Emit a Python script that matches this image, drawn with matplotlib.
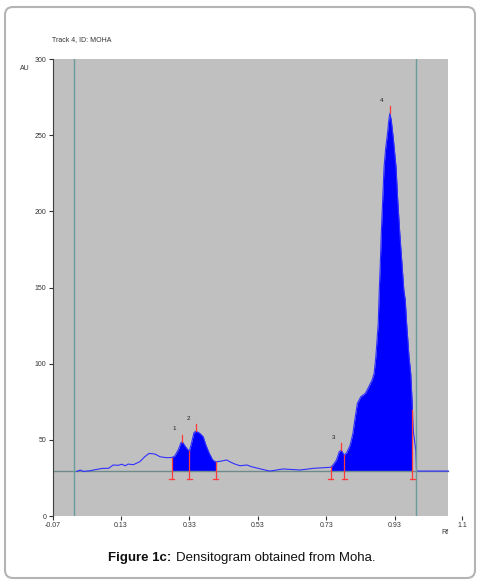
import numpy as np
import matplotlib
matplotlib.use("Agg")
import matplotlib.pyplot as plt
from matplotlib.patches import FancyBboxPatch
from matplotlib.transforms import IdentityTransform

plt.rcParams["font.family"] = ["Liberation Sans", "DejaVu Sans"]

# densitogram trace (Rf, AU)
rf = [0.000, 0.011, 0.019, 0.039, 0.049, 0.076, 0.093, 0.107, 0.122, 0.132,
      0.142, 0.151, 0.166, 0.185, 0.199, 0.212, 0.229, 0.244, 0.263, 0.278,
      0.287, 0.298, 0.305, 0.309, 0.315, 0.324, 0.330, 0.337, 0.343, 0.349,
      0.360, 0.370, 0.378, 0.388, 0.398, 0.407, 0.424, 0.439, 0.449, 0.463,
      0.478, 0.498, 0.511, 0.531, 0.551, 0.565, 0.604, 0.653, 0.692, 0.721,
      0.743, 0.750, 0.760, 0.768, 0.774, 0.778, 0.783, 0.790, 0.800, 0.808,
      0.812, 0.821, 0.831, 0.844, 0.852, 0.864, 0.870, 0.875, 0.882, 0.885,
      0.888, 0.891, 0.895, 0.899, 0.904, 0.909, 0.913, 0.916, 0.920, 0.926,
      0.934, 0.939, 0.945, 0.952, 0.957, 0.961, 0.965, 0.972, 0.977, 0.980,
      0.982, 0.985, 0.992, 0.994, 1.087]
au = [29.3, 30.2, 29.3, 29.7, 30.2, 31.3, 31.3, 33.5, 33.3, 34.0,
      33.0, 34.1, 33.7, 35.7, 38.9, 41.1, 40.7, 38.9, 38.3, 38.4,
      39.4, 43.8, 48.1, 48.8, 46.6, 43.8, 42.7, 48.8, 54.7, 55.8,
      54.3, 52.1, 46.6, 41.1, 36.8, 35.5, 36.1, 36.8, 35.5, 34.1,
      33.0, 33.5, 32.4, 31.3, 30.2, 29.5, 30.9, 30.2, 31.3, 31.7,
      32.0, 33.5, 36.8, 42.2, 43.3, 41.6, 40.0, 41.6, 46.6, 54.3,
      60.8, 74.0, 78.3, 80.5, 83.8, 89.3, 93.7, 104.6, 126.5, 148.0,
      165.0, 185.6, 207.5, 229.0, 242.0, 251.0, 260.0, 264.4, 260.0, 248.0,
      229.0, 207.5, 185.6, 163.7, 148.0, 141.8, 126.5, 104.6, 93.7, 80.0,
      69.6, 55.0, 43.0, 29.5, 29.5]

baseline = 29.5
front_lines = [-0.007, 0.993]
scan_end = 1.087
peak_labels = ["1", "2", "3", "4"]
peak_max_rf = [0.309, 0.349, 0.774, 0.916]
peak_max_au = [48.8, 55.8, 43.3, 264.4]
bounds = [0.278, 0.330, 0.407, 0.743, 0.783, 0.982]
groups = [(0.278, 0.407), (0.743, 0.982)]
x_end = 1.127  # axis end, labelled "1.1" by the scanner software
xticks = [-0.07, 0.13, 0.33, 0.53, 0.73, 0.93, x_end]
xticklabels = ["-0.07", "0.13", "0.33", "0.53", "0.73", "0.93", "1.1"]
yticks = [0, 50, 100, 150, 200, 250, 300]

rf = np.array(rf)
au = np.array(au)

fig = plt.figure(figsize=(4.8, 5.85), dpi=100)

# rounded frame around the figure
frame = FancyBboxPatch((5, 7), 470, 571, boxstyle="round,pad=0,rounding_size=8",
                       transform=IdentityTransform(), fill=False,
                       edgecolor="#b4b4b4", linewidth=1.5)
fig.patches.append(frame)

ax = fig.add_axes([52.7 / 480, 0.1179, 409.3 / 480, 0.7812])
ax.set_facecolor("none")
ax.set_xlim(-0.07, x_end)
ax.set_ylim(0, 300)
ax.axvspan(-0.07, scan_end, color="#c0c0c0", linewidth=0, zorder=0)

for lo, hi in groups:
    m = (rf >= lo) & (rf <= hi)
    ax.fill_between(rf[m], baseline, au[m], color="#0000ff", linewidth=0)

ax.plot([-0.07, scan_end], [baseline, baseline], color="#6f8a8a", linewidth=1.0)
ax.plot(rf, au, color="#3030ff", linewidth=0.8)
for f in front_lines:
    ax.axvline(f, color="#6a9c9c", linewidth=1.0)

# peak boundaries
for b in bounds:
    yv = np.interp(b, rf, au)
    ax.plot([b, b], [24.5, yv], color="#ff3b3b", linewidth=0.9)
    ax.plot([b - 0.007, b + 0.007], [24.5, 24.5], color="#ff3b3b", linewidth=0.9)

# peak maxima markers and numbers
for lab, px, py in zip(peak_labels, peak_max_rf, peak_max_au):
    ax.plot([px, px], [py, py + 4.5], color="#ff3b3b", linewidth=0.9)
    ax.text(px - 0.023, py + 8.5, lab, fontsize=4.5, color="#202020",
            ha="center", va="center")

ax.set_xticks(xticks)
ax.set_xticklabels(xticklabels)
ax.set_yticks(yticks)
ax.tick_params(labelsize=5, colors="#333333", length=3, width=0.8, pad=1.5)
for s in ["top", "right", "bottom"]:
    ax.spines[s].set_visible(False)
ax.spines["left"].set_color("#404040")
ax.spines["left"].set_linewidth(0.8)

fig.text(52 / 480, 1 - 40 / 585, "Track 4, ID: MOHA", fontsize=5, color="#333333",
         ha="left", va="center")
fig.text(25 / 480, 1 - 68 / 585, "AU", fontsize=5, color="#333333",
         ha="center", va="center")
fig.text(445 / 480, 1 - 532 / 585, "Rf", fontsize=5, color="#333333",
         ha="center", va="center")

fig.text(171 / 480, 1 - 558 / 585, "Figure 1c:", fontsize=9.5, fontweight="bold",
         color="#111111", ha="right", va="center")
fig.text(175.5 / 480, 1 - 558 / 585, "Densitogram obtained from Moha.", fontsize=9.5,
         color="#111111", ha="left", va="center")

fig.savefig("out.png", dpi=100)
